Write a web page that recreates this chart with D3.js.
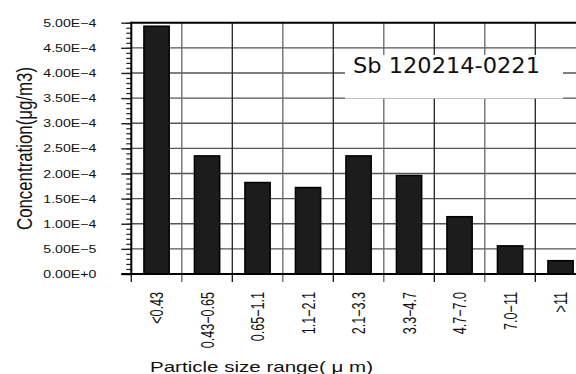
<!DOCTYPE html>
<html>
<head>
<meta charset="utf-8">
<script src="https://cdn.jsdelivr.net/npm/d3@7"></script>
<style>
  body { margin: 0; background: #fff; }
  svg { display: block; }
</style>
</head>
<body>
<div id="chart"></div>
<script>
// particle size bins and Sb concentration (ug/m3)
const categories = ["<0.43", "0.43\u22120.65", "0.65\u22121.1", "1.1\u22122.1", "2.1\u22123.3",
                    "3.3\u22124.7", "4.7\u22127.0", "7.0\u221211", ">11"];
const values = [4.93e-4, 2.35e-4, 1.82e-4, 1.72e-4, 2.35e-4, 1.96e-4, 1.14e-4, 5.6e-5, 2.65e-5];

const yTicks = [0, 5e-5, 1e-4, 1.5e-4, 2e-4, 2.5e-4, 3e-4, 3.5e-4, 4e-4, 4.5e-4, 5e-4];
const yTickLabels = ["0.00E+0", "5.00E\u22125", "1.00E\u22124", "1.50E\u22124", "2.00E\u22124",
                     "2.50E\u22124", "3.00E\u22124", "3.50E\u22124", "4.00E\u22124", "4.50E\u22124", "5.00E\u22124"];
const yMinor = [];
for (let i = 0; i <= 50; i++) yMinor.push(i * 1e-5);

const sampleLabel = "Sb 120214-0221";
const xTitle = "Particle size range( \u03BC m)";
const yTitle = "Concentration(\u03BCg/m3)";

const width = 576;
const height = 374;

const plot = { left: 131.3, top: 22.7, bottom: 274, right: 585.8 };

const svg = d3.select("#chart")
  .append("svg")
    .attr("width", width)
    .attr("height", height);

const x = d3.scaleBand()
  .domain(categories)
  .range([plot.left, plot.right])
  .paddingInner(0.5)
  .paddingOuter(0.25);

const y = d3.scaleLinear()
  .domain([0, 5e-4])
  .range([plot.bottom, plot.top]);

const step = x.step();
const bounds = categories.map(d => x(d) - step * 0.25);
bounds.push(plot.right);

// horizontal grid
svg.append("g")
  .selectAll("line")
  .data(yTicks.slice(1, -1))
  .join("line")
    .attr("x1", plot.left)
    .attr("x2", width)
    .attr("y1", d => y(d))
    .attr("y2", d => y(d))
    .attr("stroke", "#555")
    .attr("stroke-width", 1.4);

// vertical grid
svg.append("g")
  .selectAll("line")
  .data(bounds.slice(1))
  .join("line")
    .attr("x1", d => d)
    .attr("x2", d => d)
    .attr("y1", plot.top)
    .attr("y2", plot.bottom)
    .attr("stroke", (d, i) => i % 2 ? "#222" : "#666")
    .attr("stroke-width", 1.3);

// top border
svg.append("line")
  .attr("x1", plot.left).attr("x2", width)
  .attr("y1", plot.top).attr("y2", plot.top)
  .attr("stroke", "#000").attr("stroke-width", 2);

// label box
svg.append("rect")
  .attr("x", 345).attr("y", 55)
  .attr("width", 218).attr("height", 43.5)
  .attr("fill", "#fff");
svg.append("text")
  .attr("x", 353).attr("y", 73)
  .attr("font-family", "'DejaVu Sans', sans-serif")
  .attr("font-size", 21)
  .attr("fill", "#111")
  .attr("textLength", 187)
  .attr("lengthAdjust", "spacingAndGlyphs")
  .text(sampleLabel);

// bars
svg.append("g")
  .selectAll("rect")
  .data(values)
  .join("rect")
    .attr("x", (d, i) => x(categories[i]))
    .attr("y", d => y(d))
    .attr("width", x.bandwidth())
    .attr("height", d => y(0) - y(d))
    .attr("fill", "#1c1c1c")
    .attr("stroke", "#000")
    .attr("stroke-width", 1.5);

// y axis: minor ticks
svg.append("g")
  .attr("transform", `translate(${plot.left},0)`)
  .call(d3.axisLeft(y).tickValues(yMinor).tickSize(5).tickFormat(""))
  .call(g => g.select(".domain").remove())
  .call(g => g.selectAll("line").attr("stroke", "#222").attr("stroke-width", 1.2));

// y axis: major ticks + labels
svg.append("g")
  .attr("transform", `translate(${plot.left},0)`)
  .call(d3.axisLeft(y).tickValues(yTicks).tickSize(10).tickPadding(25)
    .tickFormat((d, i) => yTickLabels[i]))
  .call(g => g.select(".domain").remove())
  .call(g => g.selectAll("line").attr("stroke", "#222").attr("stroke-width", 1.4))
  .call(g => g.selectAll("text")
    .attr("font-family", "'Liberation Sans', Arial, sans-serif")
    .attr("font-size", 11)
    .attr("fill", "#111")
    .attr("textLength", 53)
    .attr("lengthAdjust", "spacingAndGlyphs"));

svg.append("line")
  .attr("x1", plot.left).attr("x2", plot.left)
  .attr("y1", plot.top - 1).attr("y2", plot.bottom + 1)
  .attr("stroke", "#000").attr("stroke-width", 2);

// x axis: boundary ticks
svg.append("g")
  .selectAll("line")
  .data(bounds.slice(0, -1))
  .join("line")
    .attr("x1", d => d).attr("x2", d => d)
    .attr("y1", plot.bottom).attr("y2", plot.bottom + 8)
    .attr("stroke", (d, i) => i % 2 ? "#666" : "#111")
    .attr("stroke-width", 1.3);

svg.append("line")
  .attr("x1", plot.left - 10).attr("x2", width)
  .attr("y1", plot.bottom).attr("y2", plot.bottom)
  .attr("stroke", "#000").attr("stroke-width", 2);

// x labels, rotated
svg.append("g")
  .attr("transform", `translate(0,${plot.bottom})`)
  .call(d3.axisBottom(x).tickSize(0).tickPadding(0))
  .call(g => g.select(".domain").remove())
  .call(g => g.selectAll("text")
    .attr("font-family", "'Liberation Sans', Arial, sans-serif")
    .attr("font-size", 18)
    .attr("fill", "#111")
    .attr("text-anchor", "end")
    .attr("dy", null)
    .attr("y", 0)
    .attr("transform", "translate(6.5,18) rotate(-90) scale(0.7,1)"));

// axis titles
svg.append("text")
  .attr("x", 150).attr("y", 371.5)
  .attr("font-family", "'Liberation Sans', Arial, sans-serif")
  .attr("font-size", 15)
  .attr("fill", "#111")
  .attr("textLength", 223)
  .attr("lengthAdjust", "spacingAndGlyphs")
  .text(xTitle);

svg.append("text")
  .attr("transform", "translate(32,230) rotate(-90)")
  .attr("font-family", "'Liberation Sans', Arial, sans-serif")
  .attr("font-size", 22)
  .attr("fill", "#111")
  .attr("textLength", 163)
  .attr("lengthAdjust", "spacingAndGlyphs")
  .text(yTitle);
</script>
</body>
</html>
